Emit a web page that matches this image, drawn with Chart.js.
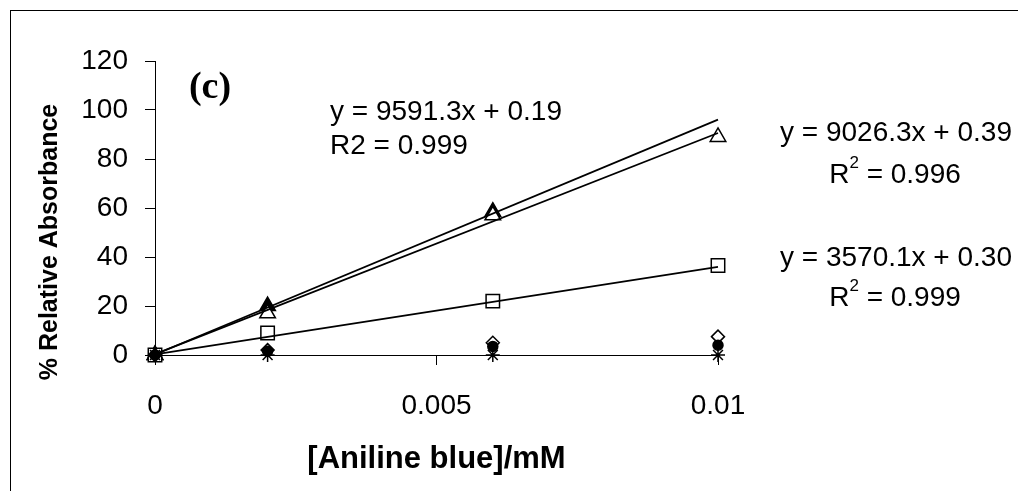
<!DOCTYPE html>
<html>
<head>
<meta charset="utf-8">
<script src="https://cdn.jsdelivr.net/npm/chart.js@4/dist/chart.umd.min.js"></script>
<style>
  body { margin: 0; background: #fff; }
  canvas { display: block; }
</style>
</head>
<body>
<canvas id="absorbance" width="1018" height="491"></canvas>
<script>
// concentrations (mM)
const concentrations = [0, 0.002, 0.006, 0.01];
const xTicks = [0, 0.005, 0.01];
const xTickLabels = ['0', '0.005', '0.01'];
const yTicks = [0, 20, 40, 60, 80, 100, 120];

// % relative absorbance per series
const filledTriangles = [0, 20, 58.5];
const openTriangles = [0, 17, 57, 89];
const openSquares = [0, 9, 22, 36.5];
const openDiamonds = [0, 2, 5, 7.5];
const filledDots = [0, 1.5, 3.5, 4];
const stars = [0, 0, 0, 0];

// trendline ends (at x = 0 and x = 0.01)
const trendX = [0, 0.01];
const trendFilledTri = [0.19, 96.1];
const trendOpenTri = [0.39, 90.6];
const trendSquares = [0.30, 36.0];

const toPoints = (xs, ys) => ys.map((y, i) => ({ x: xs[i], y: y }));

const markerSet = (data, style, radius, fill) => ({
    data: toPoints(concentrations, data),
    showLine: false,
    pointStyle: style,
    pointRadius: radius,
    pointHoverRadius: radius,
    pointBackgroundColor: fill,
    pointBorderColor: '#000',
    pointBorderWidth: 1.5,
    clip: false
});

const trendSet = (data) => ({
    data: toPoints(trendX, data),
    showLine: true,
    borderColor: '#000',
    borderWidth: 1.8,
    pointRadius: 0,
    fill: false,
    clip: false
});

const textPlugin = {
    id: 'texts',
    beforeDraw(chart) {
        const ctx = chart.ctx;
        ctx.save();
        ctx.strokeStyle = '#000';
        ctx.lineWidth = 1;
        ctx.strokeRect(10.5, 10.5, 1200, 1000);
        ctx.restore();
    },
    afterDraw(chart) {
        const ctx = chart.ctx;
        ctx.save();
        ctx.fillStyle = '#000';
        ctx.textBaseline = 'middle';

        // y axis title
        ctx.save();
        ctx.translate(50, 242);
        ctx.rotate(-Math.PI / 2);
        ctx.textAlign = 'center';
        ctx.font = 'bold 25px "Liberation Sans", Arial, sans-serif';
        ctx.fillText('% Relative Absorbance', 0, 0);
        ctx.restore();

        ctx.font = 'bold 38px "Liberation Serif", "Times New Roman", serif';
        ctx.textAlign = 'center';
        ctx.fillText('(c)', 210, 88);

        ctx.font = '28px "Liberation Sans", Arial, sans-serif';
        ctx.textAlign = 'left';
        ctx.fillText('y = 9591.3x + 0.19', 330, 112);
        ctx.fillText('R2 = 0.999', 330, 146);

        ctx.fillText('y = 9026.3x + 0.39', 780, 133);
        ctx.fillText('y = 3570.1x + 0.30', 780, 258);

        const rSquared = (value, cx, cy) => {
            ctx.font = '28px "Liberation Sans", Arial, sans-serif';
            const wR = ctx.measureText('R').width;
            const wRest = ctx.measureText(' = ' + value).width;
            ctx.font = '17px "Liberation Sans", Arial, sans-serif';
            const w2 = ctx.measureText('2').width;
            let x = cx - (wR + w2 + wRest) / 2;
            ctx.textAlign = 'left';
            ctx.font = '28px "Liberation Sans", Arial, sans-serif';
            ctx.fillText('R', x, cy);
            ctx.font = '17px "Liberation Sans", Arial, sans-serif';
            ctx.fillText('2', x + wR, cy - 12);
            ctx.font = '28px "Liberation Sans", Arial, sans-serif';
            ctx.fillText(' = ' + value, x + wR + w2, cy);
        };
        rSquared('0.996', 895, 175);
        rSquared('0.999', 895, 298);
        ctx.restore();
    }
};

new Chart(document.getElementById('absorbance'), {
    type: 'scatter',
    data: {
        datasets: [
            trendSet(trendFilledTri),
            trendSet(trendOpenTri),
            trendSet(trendSquares),
            markerSet(stars, 'star', 7, '#000'),
            markerSet(filledDots, 'circle', 5, '#000'),
            markerSet(openDiamonds, 'rectRot', 6.5, '#fff'),
            markerSet(openSquares, 'rect', 9.5, '#fff'),
            markerSet(openTriangles, 'triangle', 9, '#fff'),
            markerSet(filledTriangles, 'triangle', 9, '#000')
        ]
    },
    options: {
        responsive: false,
        animation: false,
        layout: { padding: { left: 0, right: 300, top: 61, bottom: 0 } },
        plugins: {
            legend: { display: false },
            tooltip: { enabled: false }
        },
        scales: {
            x: {
                type: 'linear',
                min: 0,
                max: 0.01,
                afterFit: (s) => { s.height = 136; },
                afterBuildTicks: (s) => { s.ticks = xTicks.map(v => ({ value: v })); },
                ticks: {
                    color: '#000',
                    padding: 24,
                    maxRotation: 0,
                    font: { family: '"Liberation Sans", Arial, sans-serif', size: 28 },
                    callback: (v, i) => xTickLabels[i]
                },
                grid: { drawOnChartArea: false, drawTicks: true, tickLength: 10, color: '#000', lineWidth: 1 },
                border: { display: true, color: '#000', width: 1 },
                title: {
                    display: true,
                    text: '[Aniline blue]/mM',
                    color: '#000',
                    padding: { top: 0, bottom: 13 },
                    font: { family: '"Liberation Sans", Arial, sans-serif', size: 31, weight: 'bold' }
                }
            },
            y: {
                min: 0,
                max: 120,
                afterFit: (s) => { s.width = 155; },
                afterBuildTicks: (s) => { s.ticks = yTicks.map(v => ({ value: v })); },
                ticks: {
                    color: '#000',
                    padding: 17,
                    font: { family: '"Liberation Sans", Arial, sans-serif', size: 28 }
                },
                grid: { drawOnChartArea: false, drawTicks: true, tickLength: 10, color: '#000', lineWidth: 1 },
                border: { display: true, color: '#000', width: 1 }
            }
        }
    },
    plugins: [textPlugin]
});
</script>
</body>
</html>
